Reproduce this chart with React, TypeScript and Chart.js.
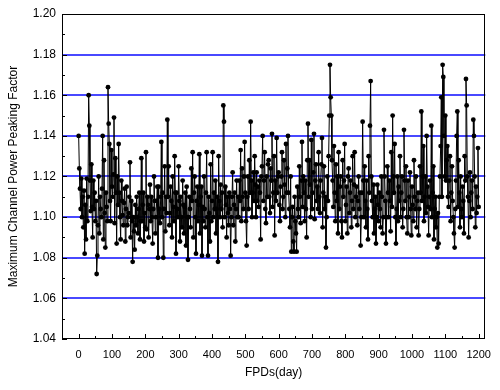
import React, { useEffect, useRef } from "react";
import { Chart, registerables } from "chart.js";

Chart.register(...registerables);

// FPD sampling of the series (days)
const START_DAY = 0;
const STEP_DAYS = 2;

// Maximum channel power peaking factor, one value per sample (day 0 .. 1200)
const peakingFactor: number[] = [
  // 0..28
  1.140, 1.124, 1.114, 1.104, 1.119, 1.100, 1.110, 1.095, 1.113, 1.082, 1.106, 1.089, 1.119, 1.098, 1.110,
  // 30..58
  1.160, 1.145, 1.118, 1.103, 1.126, 1.105, 1.090, 1.118, 1.104, 1.112, 1.098, 1.108, 1.072, 1.081, 1.096,
  // 60..88
  1.120, 1.092, 1.110, 1.104, 1.100, 1.114, 1.140, 1.089, 1.128, 1.102, 1.085, 1.112, 1.105, 1.098, 1.164,
  // 90..118
  1.146, 1.136, 1.108, 1.098, 1.133, 1.115, 1.110, 1.121, 1.149, 1.097, 1.129, 1.112, 1.087, 1.120, 1.106,
  // 120..148
  1.136, 1.112, 1.100, 1.089, 1.118, 1.108, 1.101, 1.096, 1.107, 1.114, 1.088, 1.104, 1.115, 1.096, 1.100,
  // 150..178
  1.102, 1.110, 1.127, 1.090, 1.108, 1.098, 1.078, 1.100, 1.093, 1.084, 1.106, 1.096, 1.110, 1.100, 1.092,
  // 180..208
  1.104, 1.112, 1.089, 1.098, 1.129, 1.098, 1.106, 1.112, 1.088, 1.102, 1.095, 1.132, 1.094, 1.110, 1.106,
  // 210..238
  1.090, 1.104, 1.116, 1.098, 1.110, 1.100, 1.087, 1.104, 1.120, 1.108, 1.092, 1.100, 1.108, 1.115, 1.080,
  // 240..268
  1.115, 1.104, 1.097, 1.110, 1.137, 1.100, 1.112, 1.080, 1.104, 1.125, 1.093, 1.110, 1.102, 1.148, 1.110,
  // 270..298
  1.125, 1.096, 1.102, 1.115, 1.108, 1.090, 1.120, 1.105, 1.098, 1.130, 1.112, 1.082, 1.112, 1.104, 1.100,
  // 300..328
  1.125, 1.108, 1.088, 1.110, 1.100, 1.095, 1.118, 1.106, 1.092, 1.105, 1.112, 1.086, 1.115, 1.100, 1.079,
  // 330..358
  1.100, 1.110, 1.104, 1.095, 1.124, 1.108, 1.132, 1.090, 1.112, 1.120, 1.100, 1.082, 1.108, 1.115, 1.098,
  // 360..388
  1.106, 1.131, 1.092, 1.110, 1.115, 1.081, 1.105, 1.098, 1.120, 1.104, 1.095, 1.112, 1.132, 1.100, 1.081,
  // 390..418
  1.110, 1.102, 1.088, 1.126, 1.098, 1.108, 1.132, 1.100, 1.112, 1.104, 1.118, 1.092, 1.104, 1.110, 1.078,
  // 420..448
  1.130, 1.108, 1.100, 1.116, 1.104, 1.112, 1.095, 1.155, 1.147, 1.100, 1.115, 1.106, 1.090, 1.110, 1.102,
  // 450..478
  1.096, 1.112, 1.104, 1.081, 1.100, 1.110, 1.122, 1.096, 1.106, 1.112, 1.088, 1.104, 1.118, 1.100, 1.110,
  // 480..508
  1.100, 1.118, 1.108, 1.133, 1.098, 1.124, 1.110, 1.104, 1.120, 1.137, 1.112, 1.098, 1.086, 1.110, 1.120,
  // 510..538
  1.104, 1.128, 1.112, 1.147, 1.118, 1.100, 1.112, 1.122, 1.108, 1.130, 1.116, 1.100, 1.122, 1.108, 1.115,
  // 540..568
  1.105, 1.118, 1.112, 1.089, 1.120, 1.125, 1.140, 1.108, 1.118, 1.132, 1.104, 1.097, 1.120, 1.110, 1.126,
  // 570..598
  1.128, 1.110, 1.102, 1.124, 1.118, 1.141, 1.105, 1.112, 1.130, 1.091, 1.118, 1.108, 1.139, 1.112, 1.120,
  // 600..628
  1.122, 1.106, 1.098, 1.115, 1.120, 1.132, 1.104, 1.110, 1.128, 1.116, 1.100, 1.136, 1.112, 1.124, 1.140,
  // 630..658
  1.112, 1.104, 1.095, 1.120, 1.083, 1.100, 1.105, 1.088, 1.083, 1.110, 1.098, 1.092, 1.083, 1.115, 1.104,
  // 660..688
  1.100, 1.125, 1.110, 1.097, 1.118, 1.137, 1.105, 1.120, 1.112, 1.098, 1.118, 1.104, 1.090, 1.128, 1.146,
  // 690..718
  1.110, 1.128, 1.116, 1.100, 1.138, 1.104, 1.112, 1.122, 1.141, 1.099, 1.118, 1.126, 1.108, 1.115, 1.104,
  // 720..748
  1.132, 1.110, 1.102, 1.118, 1.126, 1.139, 1.095, 1.112, 1.125, 1.104, 1.110, 1.085, 1.100, 1.120, 1.108,
  // 750..778
  1.130, 1.150, 1.175, 1.159, 1.150, 1.128, 1.118, 1.105, 1.135, 1.112, 1.098, 1.126, 1.108, 1.120, 1.092,
  // 780..808
  1.132, 1.104, 1.115, 1.120, 1.098, 1.090, 1.128, 1.110, 1.118, 1.136, 1.098, 1.106, 1.115, 1.092, 1.120,
  // 810..838
  1.124, 1.102, 1.112, 1.118, 1.095, 1.108, 1.130, 1.104, 1.116, 1.132, 1.100, 1.110, 1.115, 1.096, 1.108,
  // 840..868
  1.120, 1.104, 1.112, 1.086, 1.100, 1.112, 1.147, 1.118, 1.100, 1.125, 1.108, 1.095, 1.118, 1.104, 1.089,
  // 870..898
  1.130, 1.112, 1.145, 1.167, 1.120, 1.108, 1.100, 1.116, 1.092, 1.104, 1.110, 1.087, 1.100, 1.116, 1.106,
  // 900..928
  1.098, 1.112, 1.104, 1.095, 1.120, 1.110, 1.092, 1.100, 1.143, 1.120, 1.108, 1.087, 1.100, 1.125, 1.112,
  // 930..958
  1.100, 1.118, 1.108, 1.093, 1.132, 1.105, 1.150, 1.120, 1.112, 1.136, 1.100, 1.087, 1.104, 1.120, 1.098,
  // 960..988
  1.115, 1.108, 1.130, 1.100, 1.112, 1.120, 1.095, 1.104, 1.143, 1.118, 1.108, 1.125, 1.100, 1.092, 1.118,
  // 990..1018
  1.100, 1.110, 1.122, 1.104, 1.091, 1.115, 1.106, 1.098, 1.128, 1.110, 1.104, 1.120, 1.095, 1.108, 1.112,
  // 1020..1048
  1.091, 1.104, 1.125, 1.112, 1.152, 1.108, 1.120, 1.135, 1.098, 1.110, 1.120, 1.102, 1.140, 1.115, 1.105,
  // 1050..1078
  1.091, 1.110, 1.118, 1.104, 1.145, 1.100, 1.112, 1.125, 1.089, 1.104, 1.110, 1.095, 1.100, 1.085, 1.102,
  // 1080..1108
  1.087, 1.110, 1.120, 1.135, 1.159, 1.110, 1.175, 1.169, 1.140, 1.120, 1.150, 1.118, 1.128, 1.135, 1.110,
  // 1110..1138
  1.105, 1.118, 1.130, 1.098, 1.112, 1.125, 1.108, 1.100, 1.092, 1.085, 1.104, 1.118, 1.140, 1.152, 1.105,
  // 1140..1168
  1.128, 1.112, 1.095, 1.120, 1.104, 1.100, 1.115, 1.108, 1.092, 1.130, 1.118, 1.168, 1.155, 1.120, 1.110,
  // 1170..1198
  1.090, 1.108, 1.122, 1.100, 1.112, 1.118, 1.104, 1.148, 1.140, 1.120, 1.095, 1.115, 1.102, 1.110, 1.134,
  // 1200
  1.105,
];

const fpdDays: number[] = peakingFactor.map((_, i) => START_DAY + i * STEP_DAYS);

const xTickValues = [0, 100, 200, 300, 400, 500, 600, 700, 800, 900, 1000, 1100, 1200];
const yTickValues = [1.04, 1.06, 1.08, 1.10, 1.12, 1.14, 1.16, 1.18, 1.20];
const X_MIN = -50;
const X_MAX = 1220;
const Y_MIN = 1.04;
const Y_MAX = 1.2;

const xTitle = "FPDs(day)";
const yTitle = "Maximum Channel Power Peaking Factor";

const FONT = "'Liberation Sans', Arial, Helvetica, sans-serif";
const GRID_BLUE = "rgb(72,72,255)";

const frameAndTicks = {
  id: "frameAndTicks",
  afterDatasetsDraw(chart: any) {
    const { ctx, chartArea: a, scales } = chart;
    const x = scales.x;
    const y = scales.y;
    ctx.save();
    ctx.strokeStyle = "#000";
    ctx.lineWidth = 1;
    ctx.strokeRect(Math.round(a.left) + 0.5, Math.round(a.top) + 0.5,
      Math.round(a.right - a.left) - 1, Math.round(a.bottom - a.top) - 1);
    ctx.beginPath();
    // x ticks (major every 100, minor every 50), pointing inward
    for (let k = 0; k <= 24; k++) {
      const v = k * 50;
      const px = Math.round(x.getPixelForValue(v)) + 0.5;
      const len = k % 2 === 0 ? 5 : 3;
      ctx.moveTo(px, a.bottom);
      ctx.lineTo(px, a.bottom - len);
    }
    // y ticks (major every 0.02, minor every 0.01), pointing inward
    for (let k = 0; k <= 16; k++) {
      const v = Y_MIN + k * 0.01;
      const py = Math.round(y.getPixelForValue(v)) + 0.5;
      const len = k % 2 === 0 ? 5 : 3;
      ctx.moveTo(a.left, py);
      ctx.lineTo(a.left + len, py);
    }
    ctx.stroke();
    ctx.restore();
  },
};

export default function App() {
  const canvasRef = useRef<HTMLCanvasElement | null>(null);

  useEffect(() => {
    document.body.style.margin = "0";
    const canvas = canvasRef.current;
    if (!canvas) return;
    const points = fpdDays.map((d, i) => ({ x: d, y: peakingFactor[i] }));
    const chart = new Chart(canvas, {
      type: "line",
      data: {
        datasets: [
          {
            data: points,
            borderColor: "#000",
            borderWidth: 1,
            backgroundColor: "#000",
            pointRadius: 2.4,
            pointBorderWidth: 0,
            pointBackgroundColor: "#000",
            tension: 0,
          },
        ],
      },
      options: {
        responsive: false,
        animation: false,
        events: [],
        layout: { padding: { left: 0, right: 8, top: 14, bottom: 0 } },
        plugins: {
          legend: { display: false },
          tooltip: { enabled: false },
        },
        scales: {
          x: {
            type: "linear",
            min: X_MIN,
            max: X_MAX,
            afterBuildTicks: (scale: any) => {
              scale.ticks = xTickValues.map((v) => ({ value: v }));
            },
            afterFit: (scale: any) => {
              scale.height = 51;
            },
            grid: { display: false, drawTicks: false },
            border: { display: false },
            ticks: {
              color: "#000",
              font: { family: FONT, size: 11 },
              padding: 9,
              maxRotation: 0,
              autoSkip: false,
              callback: (v: any) => String(v),
            },
            title: {
              display: true,
              text: xTitle,
              color: "#000",
              font: { family: FONT, size: 12 },
              padding: { top: 0, bottom: 10 },
            },
          },
          y: {
            type: "linear",
            min: Y_MIN,
            max: Y_MAX,
            afterBuildTicks: (scale: any) => {
              scale.ticks = yTickValues.map((v) => ({ value: v }));
            },
            afterFit: (scale: any) => {
              scale.width = 62;
            },
            grid: {
              drawTicks: false,
              lineWidth: 2,
              color: (c: any) => {
                const v = c.tick ? c.tick.value : 0;
                return v > Y_MIN + 1e-6 && v < Y_MAX - 1e-6 ? GRID_BLUE : "rgba(0,0,0,0)";
              },
            },
            border: { display: false },
            ticks: {
              color: "#000",
              font: { family: FONT, size: 12 },
              padding: 6,
              autoSkip: false,
              callback: (v: any) => Number(v).toFixed(2),
            },
            title: {
              display: true,
              text: yTitle,
              color: "#000",
              font: { family: FONT, size: 12 },
              padding: { top: 6, bottom: 0 },
            },
          },
        },
      },
      plugins: [frameAndTicks],
    });
    return () => chart.destroy();
  }, []);

  return (
    <div style={{ width: 500, height: 390 }}>
      <canvas ref={canvasRef} width={500} height={390} />
    </div>
  );
}
